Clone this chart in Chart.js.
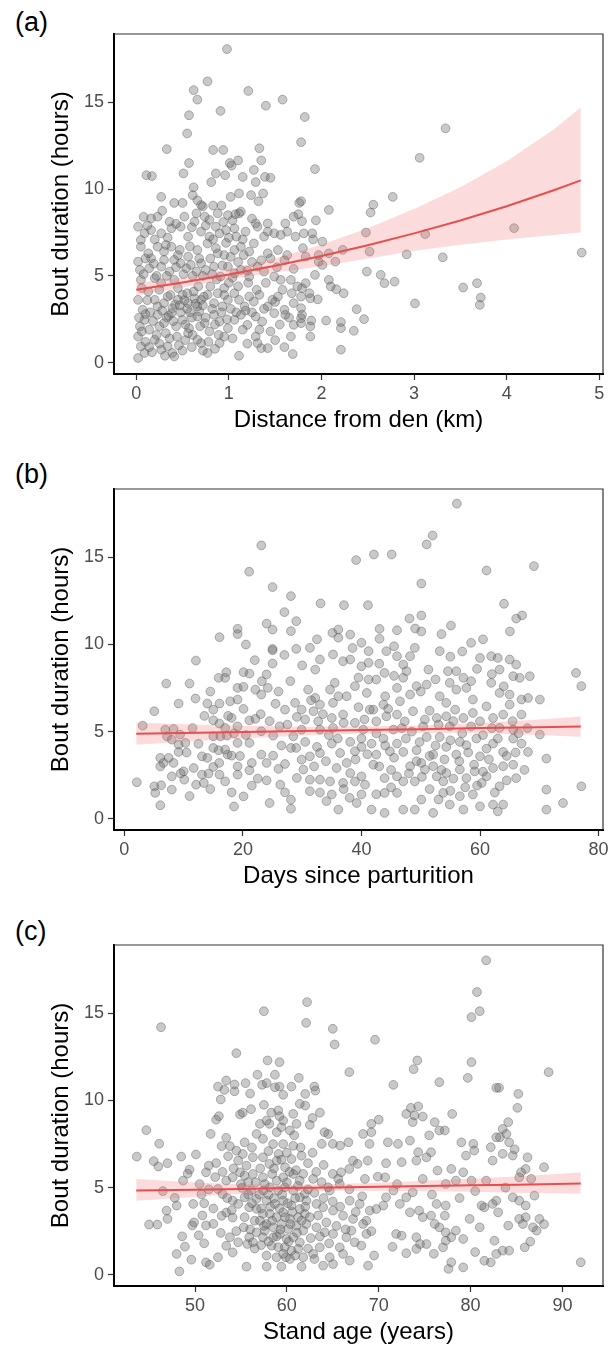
<!DOCTYPE html>
<html>
<head>
<meta charset="utf-8">
<script src="https://cdn.jsdelivr.net/npm/chart.js@4.4.1/dist/chart.umd.min.js"></script>
<style>
html, body { margin: 0; padding: 0; background: #fff; overflow: hidden; }
body { width: 614px; height: 1349px; position: relative; }
canvas { position: absolute; left: 0; }
.tag { position: absolute; left: 15px; font: 27px "Liberation Sans", Arial, sans-serif; line-height: 27px; color: #000; }
</style>
</head>
<body>
<div class="tag" style="top:9px">(a)</div>
<div class="tag" style="top:461px">(b)</div>
<div class="tag" style="top:918px">(c)</div>
<canvas id="chartA" width="614" height="444" style="top:0px"></canvas>
<canvas id="chartB" width="614" height="445" style="top:455px"></canvas>
<canvas id="chartC" width="614" height="445" style="top:911px"></canvas>
<script>
/*
  Bout duration vs distance / days / stand age, three stacked scatter panels
*/

/**************** Data *************************/

const yTicks = [0, 5, 10, 15];

// (a) distance from den (km), bout duration (h)
const ptsA = [
  [0.98,18.06],[0.77,16.2],[0.62,15.7],[0.66,15.15],[1.21,15.65],[0.91,14.5],[0.57,14.25],[1.40,14.8],[1.58,15.15],[1.82,14.15],
  [0.55,13.2],[1.78,12.7],[0.33,12.3],[0.83,12.25],[0.94,12.25],[1.33,12.35],[0.57,11.5],[1.01,11.5],[1.03,11.35],[1.10,11.65],
  [1.35,11.65],[1.27,11.1],[0.11,10.8],[0.17,10.75],[0.51,10.9],[0.86,10.9],[0.96,10.8],[0.81,10.4],[0.62,10.1],[1.15,10.7],
  [1.29,10.4],[1.39,10.7],[1.45,10.65],[0.27,9.55],[0.61,9.65],[0.41,9.2],[0.50,9.2],[0.66,9.35],[0.72,9.0],[0.83,9.05],
  [0.92,9.05],[1.02,9.55],[1.11,9.75],[1.24,9.65],[1.32,9.3],[1.37,9.75],[1.76,9.2],[0.28,8.75],[0.08,8.4],[1.07,8.55],
  [1.13,8.7],[1.75,8.55],[1.93,11.15],[3.34,13.5],[3.06,11.8],[2.77,9.55],[2.56,9.1],[2.53,8.65],[2.08,8.8],[1.78,9.3],
  [1.94,8.2],[2.48,7.5],[3.12,7.4],[4.08,7.75],[1.79,8.15],[1.81,7.45],[1.90,7.45],[1.91,7.1],[2.01,6.97],[1.80,6.6],
  [2.23,6.5],[2.52,6.4],[1.97,6.2],[1.97,5.82],[2.01,5.63],[2.08,6.3],[2.15,5.82],[2.92,6.24],[3.31,6.07],[4.81,6.34],
  [1.93,5.06],[2.49,5.25],[2.64,5.06],[2.68,4.58],[2.79,4.67],[2.08,4.77],[2.10,4.39],[2.16,4.23],[2.24,4.0],[3.53,4.33],
  [3.68,4.58],[3.72,3.75],[3.71,3.33],[3.01,3.41],[1.83,4.58],[1.79,4.29],[1.87,4.0],[1.88,3.71],[1.96,3.65],[1.78,3.14],
  [1.79,2.76],[2.38,3.08],[2.46,2.51],[2.05,2.43],[1.89,2.43],[1.88,2.09],[1.88,1.51],[1.78,2.28],[2.21,2.34],[2.21,1.99],
  [2.35,1.84],[2.21,0.75],[0.70,9.08],
  [0.16,8.31],[0.23,8.41],[0.36,8.12],[0.52,8.41],[0.63,8.12],[0.74,8.41],[0.79,8.22],[0.88,8.6],[0.99,8.5],[1.11,8.6],
  [1.29,8.02],[1.42,8.02],[1.61,8.02],[1.70,8.41],
  [0.02,7.83],[0.05,7.07],[0.09,7.45],[0.16,7.64],[0.27,7.45],[0.38,7.74],[0.48,7.83],[0.56,7.26],[0.70,7.55],[0.79,7.26],
  [0.86,7.83],[0.90,7.45],[0.97,7.64],[1.06,7.74],[1.08,7.26],[1.18,7.55],[1.31,7.83],[1.38,7.26],[1.42,7.55],[1.49,7.45],
  [1.56,7.36],[1.63,7.55],[1.72,7.26],
  [0.05,6.68],[0.13,6.3],[0.23,6.68],[0.32,6.78],[0.38,6.68],[0.45,6.2],[0.56,6.11],[0.66,6.49],[0.77,6.87],[0.88,6.3],
  [0.95,6.2],[1.06,6.49],[1.13,6.68],[1.22,6.4],[1.27,6.87],[1.42,6.3],[1.53,6.49],[1.63,6.2],[1.83,6.11],[0.02,5.82],
  [0.16,6.01],[0.30,5.92],[0.41,5.92],
  [0.04,5.34],[0.14,5.44],[0.27,5.53],[0.36,5.25],[0.48,5.72],[0.54,5.44],[0.59,5.63],[0.65,5.25],[0.70,5.72],[0.75,5.34],
  [0.84,5.53],[0.91,4.96],[0.99,5.53],[1.06,5.15],[1.13,5.34],[1.22,4.96],[1.31,5.53],[1.38,5.25],[1.49,4.96],[1.56,4.77],
  [1.67,4.77],[1.74,4.39],[0.05,4.77],[0.20,4.87],[0.27,4.58],[0.41,4.77],
  [0.02,3.62],[0.07,3.05],[0.13,4.1],[0.20,3.62],[0.23,3.24],[0.30,3.43],[0.34,3.81],[0.39,3.14],[0.45,3.62],[0.50,3.91],
  [0.56,3.43],[0.63,3.71],[0.66,3.24],[0.70,3.62],[0.77,3.91],[0.84,3.43],[0.88,4.0],[0.93,3.24],[0.99,3.62],[1.06,4.0],
  [1.11,3.62],[1.17,3.24],[1.22,3.81],[1.27,3.52],[1.33,3.91],[1.42,3.24],[1.47,3.62],[1.53,3.81],[1.60,3.05],[1.70,3.43],
  [1.78,3.81],[0.28,3.0],[0.35,2.7],[0.42,3.35],[0.48,2.9],[0.55,3.1],[0.60,2.6],[0.68,2.95],[0.25,4.2],[0.45,4.3],
  [0.62,4.1],[0.80,4.4],[0.95,4.3],[0.15,2.9],[0.72,3.3],[0.52,3.6],
  [0.04,2.09],[0.09,2.47],[0.14,1.9],[0.23,2.76],[0.30,2.28],[0.38,2.85],[0.43,2.09],[0.50,2.47],[0.57,1.99],[0.66,2.66],
  [0.74,2.28],[0.79,1.8],[0.84,2.76],[0.90,2.37],[0.99,1.99],[1.06,2.47],[1.13,2.76],[1.20,2.18],[1.29,2.66],[1.36,2.37],
  [1.49,2.85],[1.61,2.76],[1.70,2.18],[1.78,2.56],
  [0.02,1.51],[0.05,0.94],[0.09,0.56],[0.02,0.27],[0.20,1.32],[0.27,0.75],[0.34,0.94],[0.39,0.56],[0.41,0.36],[0.56,1.7],
  [0.66,1.32],[0.70,1.13],[0.77,0.56],[0.90,1.13],[1.11,0.4],[1.29,1.51],[1.31,1.13],[1.35,0.84],[1.42,0.84],[1.67,1.51],
  [1.69,0.5],
  // densest part of the cloud
  [0.10,2.8],[0.12,3.6],[0.18,2.4],[0.22,1.6],[0.25,2.1],[0.32,1.7],[0.33,2.6],[0.37,3.9],[0.40,2.4],[0.44,1.5],
  [0.47,3.3],[0.53,2.2],[0.55,4.0],[0.58,2.9],[0.61,1.6],[0.64,3.4],[0.67,4.4],[0.69,2.1],[0.73,3.8],[0.75,2.6],
  [0.78,1.2],[0.82,3.1],[0.85,2.2],[0.87,4.8],[0.89,1.6],[0.92,2.9],[0.95,3.9],[0.98,2.5],[1.00,4.6],[1.02,3.1],
  [1.04,1.4],[1.08,2.9],[1.10,4.4],[1.15,1.9],[1.18,3.0],[1.21,4.6],[1.25,2.9],[1.30,4.2],[1.33,1.9],[1.38,3.1],
  [1.40,4.6],[1.45,1.8],[1.50,3.5],[1.55,2.2],[1.58,4.2],[1.65,2.6],[1.68,4.0],[0.06,4.3],[0.08,5.1],[0.10,6.0],
  [0.19,5.7],[0.22,5.0],[0.30,6.4],[0.33,5.0],[0.43,5.5],[0.47,6.5],[0.51,5.1],[0.58,6.7],[0.61,5.0],[0.68,6.0],
  [0.72,5.0],[0.80,6.0],[0.82,5.1],[0.86,6.6],[0.93,5.6],[0.97,6.9],[1.02,6.1],[1.04,4.9],[1.10,5.8],[1.16,6.2],
  [1.20,5.3],[1.25,5.8],[1.35,5.9],[1.45,6.0],[1.52,5.5],[1.60,5.9],[1.70,5.4],[0.12,7.9],[0.20,7.1],[0.34,7.2],
  [0.43,8.0],[0.60,7.8],[0.65,8.6],[0.75,7.9],[0.83,7.1],[0.94,8.1],[1.00,7.2],[1.04,8.2],[1.15,7.1],[1.25,8.3],
  [0.03,2.6],[0.06,1.8],[0.10,1.2],[0.14,0.9],[0.17,0.6],[0.25,1.1],[0.31,0.4],[0.36,1.4],[0.46,1.0],[0.50,0.7],
  [0.53,1.3],[0.60,0.9],[0.72,0.7],[0.85,0.8],[0.95,1.5],[1.20,1.1],[1.50,1.3],[1.60,0.9]
];
const fitAx  = [0, 0.5, 1, 1.5, 2, 2.5, 3, 3.5, 4, 4.5, 4.8];
const fitAy  = [4.2, 4.62, 5.08, 5.59, 6.15, 6.77, 7.45, 8.19, 9.01, 9.92, 10.5];
const fitAlo = [3.85, 4.35, 4.8, 5.2, 5.55, 6.0, 6.45, 6.8, 7.1, 7.35, 7.5];
const fitAhi = [4.6, 4.9, 5.4, 6.0, 6.8, 7.75, 8.85, 10.1, 11.6, 13.4, 14.7];
const xTicksA = [0, 1, 2, 3, 4, 5];

// (b) days since parturition
const ptsB = [
  [23.1,15.69],[21.05,14.18],[25.0,13.3],[28.1,12.78],[27.0,11.86],[24.0,11.2],[25.0,10.86],[29.0,11.34],[28.1,10.77],[16.05,10.42],
  [19.1,10.9],[19.1,10.6],[25.0,9.75],[29.0,9.75],
  [56.1,18.09],[52.0,16.26],[51.0,15.75],[39.1,14.85],[42.1,15.17],[45.1,15.17],[61.1,14.25],[69.1,14.5],[50.1,13.5],[33.1,12.36],
  [37.05,12.26],[41.1,12.26],[64.05,12.34],[66.1,11.49],[67.1,11.67],[65.05,10.75],[48.1,11.49],[50.1,11.67],[55.1,11.09],[35.1,10.67],
  [36.1,10.86],[36.1,10.39],[38.1,10.57],[40.0,10.1],[43.05,10.9],[43.05,10.33],[46.0,10.82],[49.05,10.92],[50.1,10.75],
  [2.1,2.09],[3.1,5.34],[5.05,6.17],[7.07,7.76],[11.0,7.76],[12.07,9.08],[9.15,6.61],[6.9,5.11],[8.3,5.15],[7.2,4.73],
  [8.0,4.54],[9.4,4.83],[9.15,4.25],[10.3,4.35],[6.06,3.49],[6.6,3.2],[8.3,3.2],[6.06,3.0],[7.47,3.49],[5.05,1.86],
  [5.2,1.48],[6.2,1.92],[8.0,1.67],[6.06,0.77],[9.15,3.83],[10.0,2.72],[10.1,2.24],[11.7,2.91],[12.1,1.95],[13.1,2.53],
  [13.4,2.05],[8.0,2.43],[13.1,3.58],[14.0,3.49],[15.0,2.97],[14.2,2.59],[14.0,6.61],[15.0,6.26],[16.05,6.61],[15.0,5.65],
  [16.05,5.46],[17.0,5.21],[16.2,4.73],[17.3,4.77],[15.0,4.73],[15.0,4.06],[15.9,3.93],[17.0,3.97],[17.4,3.68],[18.1,3.62],
  [16.05,2.53],[17.0,2.14],[18.1,1.51],[20.1,1.28],[15.9,8.09],[17.0,8.09],[17.2,8.41],[17.85,6.74],[19.1,6.84],[19.1,7.51],
  [20.1,7.57],[20.1,8.41],[21.1,8.33],[22.1,7.41],[23.2,7.89],[24.0,8.28],[23.1,7.13],[24.2,7.51],[25.0,9.67],[25.0,8.91],
  [18.1,5.79],[19.1,5.3],[20.1,6.3],[21.1,5.65],[22.1,5.73],[19.1,4.35],[21.1,4.35],[19.1,3.0],[19.1,2.53],[21.1,2.78],
  [23.1,5.02],[23.1,3.68],[24.0,3.2],[25.1,3.62],[24.0,2.2],[26.3,1.95],[27.1,1.51],[26.0,2.86],[27.1,3.14],[28.1,1.09],
  [28.1,0.57],[25.1,4.77],[26.2,5.3],[27.1,6.26],[28.1,4.06],[28.5,4.73],[28.8,6.65],[29.9,6.26],[29.1,5.84],[30.5,5.69],
  [29.9,5.11],[29.0,4.06],[29.9,3.39],[30.2,2.82],[29.1,2.34],
  [41.2,9.62],[44.2,9.62],[46.0,9.33],[48.2,9.33],[49.0,9.81],[53.2,9.62],[61.9,9.33],[63.0,9.23],[65.0,9.14],[66.1,8.85],
  [31.3,9.81],[33.0,9.14],[32.2,8.56],[35.2,9.43],[36.9,9.04],[38.1,9.14],[40.0,8.75],[41.2,8.95],[47.05,8.85],[47.6,8.47],
  [47.05,8.09],[41.2,7.99],[51.3,8.56],[54.6,8.47],[56.0,8.47],[54.9,7.8],[57.2,8.09],[60.0,9.23],[63.3,8.56],[65.6,8.18],
  [66.7,8.09],[68.4,8.18],[43.9,8.37],[42.5,7.99],[76.2,8.37],[77.1,7.61],
  [31.0,7.41],[32.2,6.93],[34.7,7.41],[36.1,7.03],[37.5,7.03],[38.9,7.61],[40.9,7.22],[44.0,7.03],[46.0,7.51],[48.2,7.13],
  [49.3,7.61],[51.0,7.7],[53.2,7.03],[54.3,6.65],[56.0,7.41],[57.7,7.51],[58.8,6.84],[61.1,6.45],[61.9,7.8],[63.3,7.22],
  [65.0,7.13],[65.0,6.55],[67.0,6.84],[68.1,6.93],[70.1,6.84],[43.7,6.55],[42.0,6.26],[35.2,6.65],[33.0,6.55],[46.5,6.74],
  [31.9,6.17],[32.7,5.59],[35.0,5.78],[36.9,5.98],[38.9,5.5],[41.4,6.26],[42.5,5.59],[44.2,5.88],[46.0,5.98],[47.3,5.59],
  [48.7,6.17],[50.7,5.69],[52.7,5.78],[54.3,5.88],[55.8,6.26],[57.2,5.78],[58.8,6.07],[60.0,5.59],[62.2,5.78],[63.9,5.98],
  [63.3,5.21],[65.6,5.11],[67.0,5.98],[70.1,4.83],[33.0,5.11],[35.2,5.21],[40.3,5.11],[45.4,5.11],[50.4,5.3],[54.9,5.3],
  [30.5,4.41],[32.5,4.12],[35.0,4.31],[38.1,4.41],[40.0,4.6],[40.0,4.12],[41.7,4.31],[43.7,4.6],[46.0,4.31],[47.05,3.83],
  [49.3,3.93],[51.0,4.69],[53.2,4.69],[54.3,4.12],[56.6,4.41],[57.7,4.22],[59.4,4.6],[61.1,4.02],[62.2,4.31],[63.9,3.83],
  [65.6,4.6],[67.0,4.31],[68.1,3.83],[71.2,3.45],[31.3,3.58],[33.0,3.77],[36.4,3.77],[38.9,3.87],[42.5,3.68],[44.8,3.87],
  [52.1,3.68],[56.0,3.68],[60.0,3.58],
  [33.0,2.24],[35.8,2.91],[38.1,2.62],[38.9,2.14],[40.0,2.43],[42.0,3.1],[43.9,2.33],[46.0,2.43],[48.2,3.01],[49.3,3.3],
  [50.7,2.82],[52.1,3.01],[52.7,2.43],[54.3,2.62],[56.6,2.82],[57.7,2.33],[59.1,2.72],[61.1,2.43],[62.2,2.91],[63.9,3.01],
  [65.6,3.1],[66.1,2.33],[31.3,2.24],[34.7,2.14],[36.9,2.05],[40.6,1.95],[47.05,2.14],[49.0,2.14],[53.8,2.14],[60.3,2.05],
  [63.3,1.86],[50.1,3.2],[71.2,1.67],[77.1,1.86],
  [31.3,1.58],[34.1,1.01],[35.0,1.39],[36.1,0.52],[39.2,0.9],[40.0,1.39],[41.7,0.52],[43.9,1.48],[43.9,0.33],[46.0,1.48],
  [47.05,0.52],[49.0,0.52],[50.1,1.1],[52.1,0.33],[53.8,1.48],[54.9,0.81],[56.6,1.29],[57.2,0.52],[58.8,1.39],[60.0,0.71],
  [62.2,0.81],[63.0,0.42],[63.9,0.81],[71.2,0.52],[74.0,0.9],
  // densest part of the cloud
  [31.5,6.8],[33.5,6.0],[34.5,4.8],[36.0,4.6],[37.0,5.5],[37.5,3.2],[39.5,6.4],[39.0,3.4],[40.5,5.7],[41.0,3.7],
  [42.5,4.9],[43.0,3.0],[44.5,6.3],[44.0,4.2],[45.0,2.8],[45.5,3.5],[46.8,5.2],[47.5,4.6],[48.0,2.6],[48.5,5.0],
  [49.8,4.4],[50.2,2.4],[51.5,6.2],[51.5,3.6],[52.5,4.2],[53.0,5.4],[53.5,2.8],[54.0,3.4],[55.0,4.5],[55.5,2.3],
  [55.5,5.6],[56.5,3.3],[57.0,4.9],[57.5,1.8],[58.0,3.8],[58.5,5.3],[59.0,3.1],[59.5,1.9],[60.5,4.8],[60.5,2.7],
  [61.5,3.4],[62.0,5.2],[62.5,1.5],[63.0,4.6],[64.5,3.6],[64.5,2.2],[65.5,5.6],[66.0,3.8],[66.5,4.9],[67.5,2.8],
  [68.0,5.2],[51.5,1.7],[53.0,1.1],[55.0,1.6],[45.0,1.8],[42.5,1.4],[38.0,1.2],[37.0,1.7],[33.0,1.5],[32.0,3.0],
  [34.0,3.3],[35.5,7.8],[39.5,8.1],[43.0,8.9],[45.5,8.2],[50.0,7.3],[52.5,8.0],[58.5,7.9],[59.5,8.6],[62.0,8.3],
  [64.0,7.6],[55.0,9.3],[57.0,9.6],[58.5,10.1],[60.5,10.3],[53.5,10.6],[45.5,9.9],[38.5,9.8],[32.5,10.3],[11.5,5.2],
  [12.5,4.3],[13.5,5.9],[14.5,7.3],[16.0,3.2],[17.5,5.9],[18.5,4.9],[19.5,3.6],[20.5,4.8],[21.5,3.2],[22.5,2.3],
  [23.0,6.0],[24.5,5.6],[25.5,6.6],[26.5,4.2],[27.5,5.4],[22.0,9.1],[20.5,10.0],[10.5,3.8],[12.0,6.9],[9.5,2.6],
  [11.0,1.3],[14.5,1.7],[18.5,0.7],[21.5,1.9],[24.5,0.9],[26.0,7.3],[28.0,7.9],[30.0,8.8],[27.0,9.4]
];
const fitBx  = [2, 10, 20, 30, 40, 50, 60, 70, 77];
const fitBy  = [4.88, 4.92, 4.98, 5.03, 5.09, 5.14, 5.2, 5.25, 5.29];
const fitBlo = [4.25, 4.42, 4.62, 4.78, 4.89, 4.93, 4.9, 4.8, 4.71];
const fitBhi = [5.52, 5.42, 5.34, 5.28, 5.29, 5.35, 5.5, 5.7, 5.87];
const xTicksB = [0, 20, 40, 60, 80];

// (c) stand age (years)
const ptsC = [
  [46.3,14.21],[57.5,15.13],[54.5,12.72],[57.9,12.3],[59.2,12.2],[56.8,11.48],[58.7,11.48],[52.5,10.8],[53.4,11.15],[53.2,10.61],
  [54.3,10.92],[54.3,10.53],[52.8,10.06],[57.3,10.9],[58.7,10.76],[59.2,10.8],[59.6,10.33],[57.5,9.75],[62.0,10.38],[62.0,9.71],
  [62.2,15.65],[62.1,14.46],
  [81.7,18.05],[80.7,16.23],[81.0,15.13],[80.1,14.79],[65.0,14.12],[65.2,13.22],[69.6,13.49],[66.8,11.63],[74.2,12.3],[73.8,11.8],
  [80.1,12.2],[79.7,11.3],[76.6,11.05],[71.6,10.9],[88.5,11.63],[82.8,10.73],[83.1,10.73],[85.2,10.38],[85.1,9.58],[63.0,10.8],
  [63.1,10.57],[73.5,9.58],[74.3,9.66],
  [43.66,6.78],[44.7,8.3],[45.5,6.52],[46.0,6.21],[46.1,7.52],[45.0,2.88],[45.9,2.88],[46.9,3.68],[47.0,3.2],[47.8,4.41],
  [48.0,3.97],[48.7,5.4],[48.5,6.78],[50.1,6.9],[49.4,6.03],[48.0,1.19],[48.9,1.61],[48.6,2.2],[48.3,0.19],[49.6,0.86],
  [49.7,2.83],[50.4,2.26],[49.9,3.0],[51.2,0.71],[51.6,0.57],[51.0,4.1],[49.8,4.06],[50.7,4.61],[51.2,5.88],[51.5,6.26],
  [52.3,6.41],[51.2,2.83],[52.0,2.92],[52.5,1.0],[51.7,8.08],[52.3,8.9],[52.6,9.1],[53.4,7.86],[53.8,7.38],[52.9,7.38],
  [53.4,5.4],[54.1,5.59],[52.5,4.92],[53.0,4.63],[54.1,4.25],[53.4,3.57],[54.1,3.28],[52.9,3.38],[53.4,1.66],[54.1,1.28],
  [53.8,2.15],[54.7,1.86],[54.9,9.2],[55.2,9.3],[54.5,7.12],[55.2,6.93],[54.7,6.55],[55.6,6.26],[56.3,6.74],[54.9,5.88],
  [55.4,5.69],[56.3,5.78],[55.8,5.31],[55.1,4.98],[56.1,4.83],[55.4,4.44],[56.7,4.35],[54.7,4.06],[55.9,3.87],[56.7,3.78],
  [55.4,3.3],[56.5,3.1],[57.4,3.49],[55.3,2.72],[55.9,2.15],[56.7,2.43],[55.7,1.76],[56.3,1.86],[57.4,2.15],[57.6,2.53],
  [55.6,0.46],[57.8,0.46],[59.4,0.46],[59.9,1.0],[61.6,0.46],[56.7,8.08],[57.4,7.8],[58.1,8.66],[58.9,8.18],[59.4,8.47],
  [59.6,8.85],[58.5,7.5],[59.6,7.5],[60.7,7.4],[59.1,6.93],[57.4,6.74],[58.1,6.36],[58.9,6.55],[59.8,6.17],[60.5,6.64],
  [60.7,5.78],[59.6,5.59],[58.4,5.78],[57.4,5.59],[61.4,5.4],[61.6,6.83],
  [57.43,4.83],[58.15,5.02],[59.06,4.83],[59.78,5.02],[60.69,4.83],[61.41,4.44],[61.96,4.64],[57.79,4.25],[58.7,4.06],[59.6,4.25],
  [60.5,3.97],[61.41,3.77],[58.15,3.49],[58.88,3.3],[59.6,3.58],[60.33,3.2],[61.23,3.3],[61.96,3.49],[57.79,2.91],[58.51,2.72],
  [59.42,2.91],[60.14,2.62],[61.05,2.82],[61.78,2.53],[57.07,3.1],[58.51,2.15],[59.24,2.34],[59.97,2.05],[60.69,2.15],[61.41,1.86],
  [58.33,1.67],[59.06,1.58],[59.78,1.58],[60.5,1.38],[61.23,1.48],[57.79,1.1],[58.88,1.0],[60.33,0.9],[61.78,1.0],
  [59.06,9.43],[60.69,9.23],[61.41,9.81],[57.07,8.66],[57.79,8.85],[60.33,8.28],[61.05,8.66],
  [73.0,9.23],[73.9,9.14],[74.8,9.08],[73.7,8.76],[78.0,9.23],[76.1,8.76],[76.6,8.28],[77.2,8.28],[84.1,8.76],[83.5,8.37],
  [83.9,8.08],[83.2,7.89],[69.2,8.66],[68.3,8.08],[69.2,8.18],[64.1,8.18],[64.5,8.08],[63.8,7.51],[65.0,7.51],[65.8,7.41],
  [66.7,7.6],[69.0,7.51],[71.0,7.6],[72.1,7.51],[73.4,7.7],[80.3,7.51],[80.4,7.13],[79.5,6.84],[82.2,7.32],[82.8,7.89],
  [84.2,7.6],[83.5,6.94],[82.4,6.55],[84.6,6.84],[86.2,6.74],[88.0,6.17],[85.5,5.88],[86.0,6.07],[74.3,7.03],[75.2,6.74],
  [75.7,7.03],[74.1,6.55],[72.5,6.46],[67.2,6.55],[67.7,6.36],[66.8,6.07],[65.9,5.88],[65.0,5.79],[65.6,5.5],[64.5,5.02],
  [68.8,6.55],[68.5,5.5],[69.9,5.63],[70.7,5.59],[76.4,5.98],[77.9,6.07],[79.2,5.88],[80.1,5.4],[78.4,5.4],[77.3,5.21],
  [74.8,5.5],[81.7,5.4],[81.5,3.87],[82.4,4.06],[82.8,4.25],[83.0,3.58],[81.2,3.97],[84.6,4.44],[85.3,4.25],[86.0,3.97],
  [86.95,4.54],[85.3,5.59],[86.6,5.5],[85.3,3.2],[86.0,3.3],[86.8,2.72],[87.5,3.2],[87.2,2.53],[84.1,2.82],[85.7,2.91],
  [71.6,4.83],[70.8,4.44],[70.5,3.97],[72.3,4.06],[73.0,4.44],[73.7,4.73],[73.4,3.58],[74.4,3.68],[74.8,3.3],[75.7,3.39],
  [76.1,2.91],[76.6,2.72],[77.3,2.43],[77.9,2.15],[78.4,2.53],[79.2,2.05],[76.3,4.06],[77.3,3.97],[77.2,3.39],[71.9,2.34],
  [72.5,2.24],[74.1,2.15],[74.5,1.76],[75.2,1.76],[77.3,1.95],[77.0,1.57],[79.9,3.2],[81.0,2.72],[82.6,1.95],[73.0,1.23],
  [74.1,1.48],[77.9,0.71],[77.6,0.33],[79.2,0.42],[81.5,0.8],[82.2,0.71],[82.8,1.19],[83.5,1.38],[84.2,1.38],[85.9,1.57],
  [92.0,0.71],
  [61.77,5.79],[62.86,5.5],[63.77,5.31],[64.67,4.83],[65.76,5.21],[62.13,4.25],[63.22,4.06],[63.95,3.87],[65.03,3.68],[66.12,3.39],
  [67.21,3.2],[68.66,3.1],[69.02,3.68],[67.93,4.06],[66.84,4.25],[62.13,2.91],[63.22,2.72],[64.13,2.43],[65.03,2.34],[66.48,2.15],
  [67.39,1.86],[68.11,1.67],[67.03,2.53],[68.66,2.34],[65.76,1.57],[63.58,1.57],[62.86,1.19],[64.67,1.0],[66.12,1.19],[66.84,0.81],
  [65.03,0.61],[63.95,0.52],[68.84,0.52],[68.3,2.91],[69.74,3.77],
  // densest part of the cloud
  [55.0,5.2],[55.8,4.6],[56.2,4.1],[56.6,5.3],[57.0,4.6],[57.2,3.8],[57.6,5.2],[58.0,4.6],[58.2,3.9],[58.4,3.1],
  [58.6,4.4],[58.9,5.4],[59.2,3.8],[59.3,2.6],[59.5,4.6],[59.8,3.3],[60.0,5.3],[60.1,4.1],[60.4,2.9],[60.6,3.6],
  [60.9,4.4],[61.1,2.4],[61.2,5.1],[61.6,3.1],[62.0,3.9],[62.3,4.9],[62.5,3.3],[62.6,2.1],[63.0,4.7],[63.4,3.4],
  [63.6,2.2],[64.0,4.4],[64.3,3.0],[64.6,1.8],[65.0,4.2],[65.4,2.8],[65.8,3.9],[66.4,2.6],[66.8,4.9],[67.5,3.6],
  [68.2,4.5],[69.2,2.5],[56.0,2.6],[56.5,1.5],[57.2,1.7],[57.5,2.8],[58.0,1.9],[58.9,2.2],[59.6,1.2],[60.2,1.9],
  [60.9,1.1],[62.3,1.5],[63.0,0.9],[54.5,2.5],[54.0,3.7],[53.5,4.4],[53.0,5.9],[54.2,6.1],[53.6,6.8],[55.4,7.6],
  [56.2,7.3],[57.1,6.1],[58.0,7.1],[58.6,6.1],[59.4,6.6],[60.0,7.0],[60.3,5.9],[61.0,6.0],[61.5,7.3],[62.3,6.4],
  [62.8,7.0],[63.2,5.9],[64.0,6.3],[62.5,8.6],[60.8,8.0],[59.2,9.1],[58.3,9.3],[56.1,9.5],[56.0,10.4],[55.5,11.0],
  [57.8,11.0],[60.5,10.8],[61.3,11.3],[63.6,9.3],[62.8,9.0],[50.5,5.2],[51.5,4.9],[52.2,5.6],[52.0,3.8],[50.8,3.4],
  [49.2,5.8],[47.0,6.4],[46.5,4.8],[51.0,1.8],[52.8,2.4],[70.8,6.4],[72.0,5.2],[75.8,4.6],[78.8,4.4],[80.5,4.8],
  [83.8,5.0],[84.8,7.2],[75.5,8.0],[79.0,7.6],[70.0,8.9],[71.5,1.6],[69.5,1.1],[76.0,1.2],[80.5,1.3],[86.5,1.9],
  [88.0,2.9]
];
const fitCx  = [43.6, 50, 55, 60, 65, 70, 75, 80, 85, 92];
const fitCy  = [4.83, 4.88, 4.92, 4.97, 5.01, 5.05, 5.09, 5.13, 5.17, 5.23];
const fitClo = [4.25, 4.47, 4.65, 4.77, 4.82, 4.82, 4.79, 4.76, 4.71, 4.66];
const fitChi = [5.5, 5.3, 5.2, 5.17, 5.2, 5.28, 5.39, 5.51, 5.64, 5.86];
const xTicksC = [50, 60, 70, 80, 90];


/**************** Draw panels *************************/

const FONT = '"Liberation Sans", Arial, sans-serif';

// top and right edges of the panel box
const frame = {
    id: 'frame',
    afterDraw(chart) {
        const a = chart.chartArea;
        const ctx = chart.ctx;
        ctx.save();
        ctx.strokeStyle = '#333';
        ctx.lineWidth = 1.2;
        ctx.beginPath();
        ctx.moveTo(a.left, a.top);
        ctx.lineTo(a.right, a.top);
        ctx.lineTo(a.right, a.bottom);
        ctx.stroke();
        ctx.restore();
    }
};

function xy(xs, ys) {
    return xs.map((v, i) => ({x: v, y: ys[i]}));
}

function drawPanel(canvasID, pts, fx, fy, flo, fhi, xMin, xMax, xTicks, xTitle) {
    new Chart(document.getElementById(canvasID), {
        type: 'scatter',
        data: {
            datasets: [
                { type: 'line', data: xy(fx, fy), borderColor: '#e5504f', borderWidth: 2,
                  pointRadius: 0, fill: false, order: 0 },
                { type: 'line', data: xy(fx, fhi), borderWidth: 0, borderColor: 'rgba(0,0,0,0)',
                  pointRadius: 0, backgroundColor: 'rgba(240,110,110,0.25)', fill: '+1', order: 1 },
                { type: 'line', data: xy(fx, flo), borderWidth: 0, borderColor: 'rgba(0,0,0,0)',
                  pointRadius: 0, fill: false, order: 2 },
                { data: pts.map(p => ({x: p[0], y: p[1]})), pointRadius: 4.4,
                  backgroundColor: 'rgba(100,100,100,0.35)', borderColor: 'rgba(80,80,80,0.4)',
                  borderWidth: 1, order: 3 }
            ]
        },
        options: {
            responsive: false,
            animation: false,
            events: [],
            layout: { padding: { top: 34, right: 11, left: 0, bottom: 0 } },
            plugins: { legend: { display: false }, tooltip: { enabled: false } },
            scales: {
                x: {
                    type: 'linear', min: xMin, max: xMax,
                    afterBuildTicks: s => { s.ticks = xTicks.map(v => ({value: v})); },
                    afterFit: s => { s.height = 70; },
                    grid: { drawOnChartArea: false, drawTicks: true, tickLength: 6, tickColor: '#333', tickWidth: 1.2 },
                    border: { display: true, color: '#000', width: 2 },
                    ticks: { color: '#4d4d4d', font: { family: FONT, size: 18 }, padding: 3, maxRotation: 0, autoSkip: false },
                    title: { display: true, text: xTitle, color: '#000', font: { family: FONT, size: 24 },
                             padding: { top: 0, bottom: 9.6 } }
                },
                y: {
                    type: 'linear', min: -0.65, max: 18.93,
                    afterBuildTicks: s => { s.ticks = yTicks.map(v => ({value: v})); },
                    afterFit: s => { s.width = 114; },
                    grid: { drawOnChartArea: false, drawTicks: true, tickLength: 6, tickColor: '#333', tickWidth: 1.2 },
                    border: { display: true, color: '#000', width: 2 },
                    ticks: { color: '#4d4d4d', font: { family: FONT, size: 18 }, padding: 4 },
                    title: { display: true, text: 'Bout duration (hours)', color: '#000', font: { family: FONT, size: 24 },
                             padding: { top: 46.6, bottom: 0 } }
                }
            }
        },
        plugins: [frame]
    });
}

drawPanel('chartA', ptsA, fitAx, fitAy, fitAlo, fitAhi, -0.24, 5.04, xTicksA, 'Distance from den (km)');
drawPanel('chartB', ptsB, fitBx, fitBy, fitBlo, fitBhi, -1.75, 80.75, xTicksB, 'Days since parturition');
drawPanel('chartC', ptsC, fitCx, fitCy, fitClo, fitChi, 41.18, 94.42, xTicksC, 'Stand age (years)');
</script>
</body>
</html>
